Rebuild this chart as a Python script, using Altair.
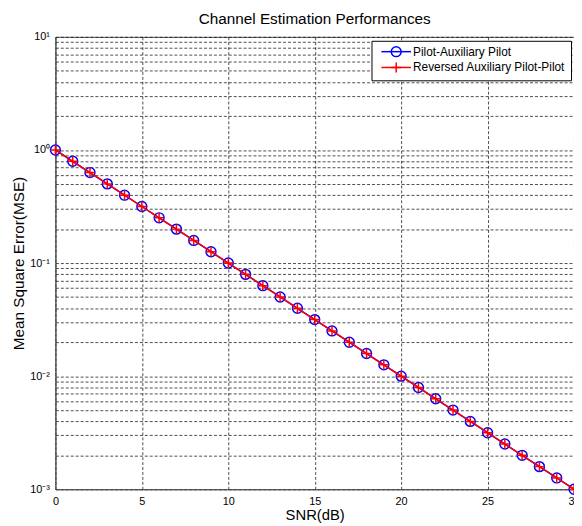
import altair as alt
import pandas as pd

snr = list(range(31))
mse_pilot_aux = [1.0, 0.7943, 0.6310, 0.5012, 0.3981, 0.3162, 0.2512, 0.1995, 0.1585, 0.1259,
                 0.1, 0.07943, 0.06310, 0.05012, 0.03981, 0.03162, 0.02512, 0.01995, 0.01585, 0.01259,
                 0.01, 0.007943, 0.006310, 0.005012, 0.003981, 0.003162, 0.002512, 0.001995, 0.001585, 0.001259,
                 0.001]
mse_reversed = [1.0, 0.7943, 0.6310, 0.5012, 0.3981, 0.3162, 0.2512, 0.1995, 0.1585, 0.1259,
                0.1, 0.07943, 0.06310, 0.05012, 0.03981, 0.03162, 0.02512, 0.01995, 0.01585, 0.01259,
                0.01, 0.007943, 0.006310, 0.005012, 0.003981, 0.003162, 0.002512, 0.001995, 0.001585, 0.001259,
                0.001]
series_names = ["Pilot-Auxiliary Pilot", "Reversed Auxiliary Pilot-Pilot"]
marker_names = [n + " " for n in series_names]  # separate key so the marker legend stays separate
series_colors = ["#0000ff", "#ff0000"]

x_ticks = [0, 5, 10, 15, 20, 25, 30]
y_grid = [0.001, 0.002, 0.003, 0.004, 0.005, 0.006, 0.007, 0.008, 0.009,
          0.01, 0.02, 0.03, 0.04, 0.05, 0.06, 0.07, 0.08, 0.09,
          0.1, 0.2, 0.3, 0.4, 0.5, 0.6, 0.7, 0.8, 0.9,
          1, 2, 3, 4, 5, 6, 7, 8, 9, 10]

rows = []
for name, mname, vals in zip(series_names, marker_names, [mse_pilot_aux, mse_reversed]):
    for s, v in zip(snr, vals):
        rows.append({"snr": s, "mse": v, "series": name, "marker": mname})
df = pd.DataFrame(rows)

FONT = "Liberation Sans"

# invisible moves give every symbol the same bounds so both legends line up
circle_path = "M-3,0M3,0M1,0A1,1 0 1,1 -1,0A1,1 0 1,1 1,0Z"
plus_path = "M-3,0M3,0M-1,0H1M0,-1V1"
legend_line = "M0,-1M0,1M-3,0H3"

label_expr = ("datum.value == 10 ? '10\u00b9' : datum.value == 1 ? '10\u2070' : "
              "datum.value == 0.1 ? '10\u207b\u00b9' : datum.value == 0.01 ? '10\u207b\u00b2' : "
              "datum.value == 0.001 ? '10\u207b\u00b3' : ''")

x_enc = alt.X("snr:Q", scale=alt.Scale(domain=[0, 30], nice=False),
              axis=alt.Axis(values=x_ticks, title="SNR(dB)", grid=True, gridDash=[3, 2],
                            gridColor="#000000", gridOpacity=1, gridWidth=0.7,
                            ticks=False, labelFlush=False, labelPadding=6,
                            labelFontSize=11, titleFontSize=15, titlePadding=2,
                            labelFont=FONT, titleFont=FONT, titleFontWeight="normal",
                            domainColor="#555555", labelColor="#000000", titleColor="#000000"))
y_enc = alt.Y("mse:Q", scale=alt.Scale(type="log", domain=[0.001, 10], nice=False),
              axis=alt.Axis(values=y_grid, labelExpr=label_expr, title="Mean Square Error(MSE)",
                            grid=True, gridDash=[3, 2], gridColor="#000000", gridOpacity=1,
                            gridWidth=0.7, ticks=False, labelOverlap=False, labelPadding=6,
                            labelFontSize=11, titleFontSize=15.5, titlePadding=3,
                            labelFont=FONT, titleFont=FONT, titleFontWeight="normal",
                            domainColor="#555555", labelColor="#000000", titleColor="#000000"))

common_legend = dict(title=None, orient="none", legendX=320, legendY=4, padding=5, rowPadding=0,
                     labelFont=FONT, labelFontSize=12, symbolSize=100, symbolStrokeWidth=1.5,
                     symbolOffset=14, labelOffset=11)
line_legend = alt.Legend(zindex=1, fillColor="#ffffff", strokeColor="#000000",
                         labelColor="#000000", symbolType=legend_line, **common_legend)
marker_legend = alt.Legend(zindex=2, labelOpacity=0, symbolFillColor="transparent", **common_legend)

stroke_scale = alt.Scale(domain=series_names, range=series_colors)
color_scale = alt.Scale(domain=marker_names, range=series_colors)
shape_scale = alt.Scale(domain=marker_names, range=[circle_path, plus_path])

layers = []
for i, name in enumerate(series_names):
    base = alt.Chart(df).transform_filter(alt.datum.series == name)
    line = base.mark_line(strokeWidth=1.5).encode(
        x=x_enc, y=y_enc,
        stroke=alt.Stroke("series:N", scale=stroke_scale, legend=line_legend if i == 0 else None))
    pts = base.mark_point(filled=False, strokeWidth=1.5, size=100, opacity=1).encode(
        x=x_enc, y=y_enc,
        color=alt.Color("marker:N", scale=color_scale, legend=marker_legend if i == 0 else None),
        shape=alt.Shape("marker:N", scale=shape_scale, legend=marker_legend if i == 0 else None))
    layers += [line, pts]

chart = alt.layer(*layers).properties(
    width=525, height=458,
    title=alt.Title("Channel Estimation Performances", fontSize=15.5, fontWeight="normal",
                    font=FONT, offset=4, color="#000000"),
    autosize=alt.AutoSizeParams(type="none"),
    padding={"left": 48, "top": 26, "right": 0, "bottom": 34},
    background="#ffffff"
).configure_view(stroke="#555555", strokeWidth=1)

chart.save("out.html", embed_options={"renderer": "svg", "actions": False})
